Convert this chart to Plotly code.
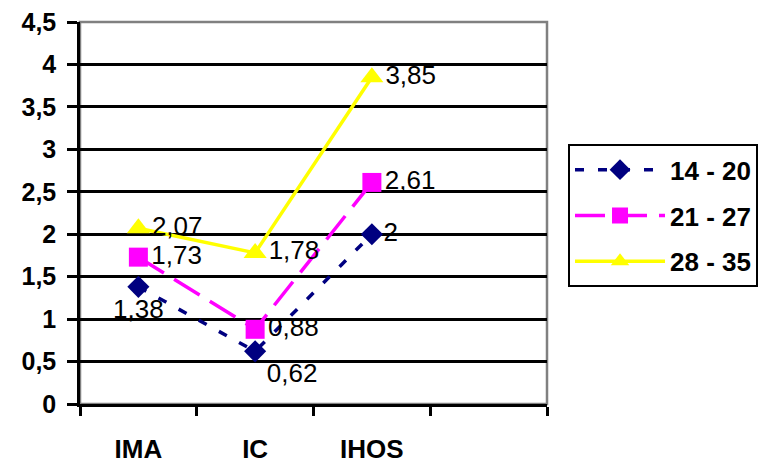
import plotly.graph_objects as go

categories = ["IMA", "IC", "IHOS"]
series_names = ["14 - 20", "21 - 27", "28 - 35"]
values_14_20 = [1.38, 0.62, 2.0]
values_21_27 = [1.73, 0.88, 2.61]
values_28_35 = [2.07, 1.78, 3.85]
y_ticks = [0, 0.5, 1, 1.5, 2, 2.5, 3, 3.5, 4, 4.5]

FONT = "Liberation Sans, Arial"


def fmt(v):
    return f"{v:g}".replace(".", ",")


x_pos = list(range(len(categories)))

styles = [
    dict(color="#000080", dash="9px,14px", symbol="diamond", size=17,
         textpos=["bottom center", "bottom right", "middle right"]),
    dict(color="#FF00FF", dash="30px,12px", symbol="square", size=19,
         textpos=["middle right"] * 3),
    dict(color="#FFFF00", dash="solid", symbol="triangle-up", size=20,
         textpos=["middle right"] * 3),
]
all_values = [values_14_20, values_21_27, values_28_35]

fig = go.Figure()
for name, vals, st in zip(series_names, all_values, styles):
    fig.add_trace(go.Scatter(
        x=x_pos, y=vals, name=name, legendgroup=name,
        mode="lines+markers+text",
        line=dict(color=st["color"], width=3.5, dash=st["dash"]),
        marker=dict(symbol=st["symbol"], size=st["size"], color=st["color"],
                    line=dict(width=0)),
        text=[fmt(v) for v in vals],
        textposition=st["textpos"],
        textfont=dict(family=FONT, size=26, color="black"),
        cliponaxis=False,
    ))

# gray frame around the plot area
fig.add_shape(type="rect", xref="x domain", yref="y domain",
              x0=0, x1=1, y0=0, y1=1,
              line=dict(color="#808080", width=2.5), layer="below")

fig.update_layout(
    width=770, height=463,
    margin=dict(l=80, r=223, t=22, b=59, autoexpand=False),
    paper_bgcolor="white", plot_bgcolor="white",
    separators=",.",
    font=dict(family=FONT, color="black"),
    showlegend=True,
    legend=dict(
        x=1.045, y=0.68, xanchor="left", yanchor="top",
        bordercolor="black", borderwidth=2,
        font=dict(size=26, family=FONT, weight="bold"),
        traceorder="grouped", tracegroupgap=9, itemsizing="trace",
        itemwidth=90,
    ),
)

fig.update_xaxes(
    range=[-0.5, 3.5], automargin=False,
    tickvals=x_pos, ticktext=categories,
    ticks="", showgrid=False, zeroline=False,
    showline=True, linecolor="black", linewidth=2.5,
    tickfont=dict(size=26, family=FONT, weight="bold"),
    ticklabelstandoff=20,
    minor=dict(tick0=-0.5, dtick=1, ticks="outside", ticklen=9,
               tickwidth=2.5, tickcolor="black", showgrid=False),
)
fig.update_yaxes(
    range=[0, 4.5], tickvals=y_ticks, automargin=False,
    ticks="outside", ticklen=10, tickwidth=2.5, tickcolor="black",
    showgrid=True, gridcolor="black", gridwidth=2.5,
    zeroline=False,
    showline=True, linecolor="black", linewidth=2.5,
    tickfont=dict(size=25, family=FONT, weight="bold"),
    ticklabelstandoff=6,
)

fig.write_html("out.html")
